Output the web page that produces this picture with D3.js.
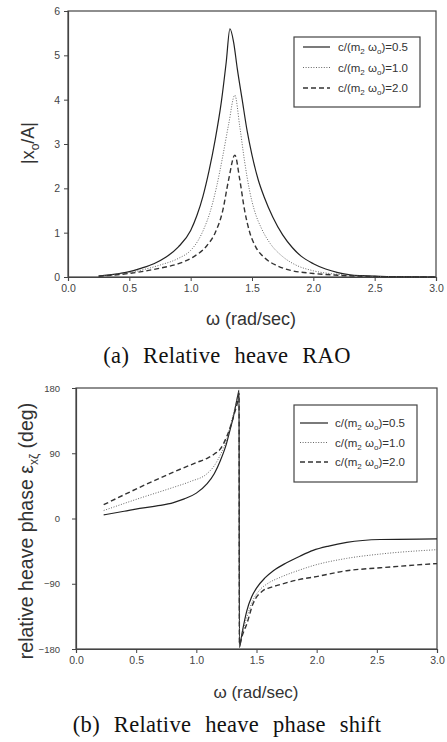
<!DOCTYPE html>
<html>
<head>
<meta charset="utf-8">
<script src="https://cdn.jsdelivr.net/npm/d3@7/dist/d3.min.js"></script>
<style>
  body { margin: 0; background: #fff; }
  text { font-family: "Liberation Sans", Arial, sans-serif; fill: #333; }
  .cap { font-family: "Liberation Serif", "Times New Roman", serif; fill: #111; }
</style>
</head>
<body>
<svg id="fig" width="447" height="742"></svg>
<script>
(function () {
    'use strict';

    // ---- data ----
    var omegaTicks = [0, 0.5, 1.0, 1.5, 2.0, 2.5, 3.0];
    var raoTicks = [0, 1, 2, 3, 4, 5, 6];
    var phaseTicks = [-180, -90, 0, 90, 180];
    var dampLabels = ['0.5', '1.0', '2.0'];

    // |x_o/A| vs omega
    var rao05 = [[0.25, 0.02], [0.4, 0.07], [0.5, 0.12], [0.6, 0.2], [0.7, 0.3], [0.8, 0.45],
        [0.9, 0.68], [1.0, 1.05], [1.05, 1.38], [1.1, 1.82], [1.15, 2.4], [1.2, 3.1],
        [1.25, 3.95], [1.29, 4.85], [1.32, 5.6], [1.35, 5.3], [1.38, 4.7], [1.42, 4.0],
        [1.46, 3.3], [1.5, 2.75], [1.55, 2.2], [1.6, 1.8], [1.67, 1.35], [1.75, 0.95],
        [1.83, 0.66], [1.9, 0.47], [2.0, 0.3], [2.1, 0.18], [2.2, 0.1], [2.3, 0.05],
        [2.4, 0.03], [2.6, 0.01], [3.0, 0]];
    var rao10 = [[0.25, 0.02], [0.5, 0.1], [0.75, 0.27], [0.9, 0.42], [1.0, 0.6], [1.06, 0.82],
        [1.11, 1.1], [1.16, 1.48], [1.21, 2.02], [1.26, 2.7], [1.31, 3.45], [1.36, 4.1],
        [1.40, 3.4], [1.44, 2.6], [1.48, 1.95], [1.52, 1.5], [1.58, 1.08], [1.65, 0.75],
        [1.75, 0.46], [1.85, 0.28], [2.0, 0.14], [2.2, 0.06], [2.4, 0.02], [2.6, 0.01], [3.0, 0]];
    var rao20 = [[0.25, 0.02], [0.5, 0.08], [0.75, 0.2], [0.9, 0.3], [1.02, 0.45], [1.13, 0.7],
        [1.2, 1.0], [1.26, 1.48], [1.31, 2.2], [1.36, 2.75], [1.40, 2.2], [1.44, 1.5],
        [1.48, 1.02], [1.53, 0.68], [1.6, 0.44], [1.7, 0.26], [1.8, 0.16], [2.0, 0.08],
        [2.2, 0.04], [2.5, 0.01], [3.0, 0]];

    // relative heave phase (deg) vs omega
    var phase05 = [[0.23, 5], [0.4, 10], [0.53, 14], [0.7, 18], [0.81, 22], [0.9, 27],
        [1.0, 35], [1.09, 48], [1.15, 62], [1.2, 80], [1.25, 103], [1.28, 122], [1.31, 142],
        [1.33, 158], [1.345, 170], [1.355, 177], [1.358, -178], [1.38, -158], [1.42, -127],
        [1.46, -108], [1.5, -96], [1.57, -82], [1.64, -72], [1.75, -61], [1.86, -52],
        [1.97, -44], [2.1, -38], [2.25, -33], [2.53, -29], [3.0, -28]];
    var phase10 = [[0.23, 11], [0.53, 28], [0.81, 43], [0.95, 51], [1.09, 62], [1.15, 73],
        [1.2, 88], [1.25, 108], [1.28, 126], [1.31, 145], [1.33, 158], [1.355, 174],
        [1.358, -176], [1.38, -160], [1.42, -136], [1.47, -113], [1.53, -98], [1.59, -90],
        [1.7, -81], [1.86, -71], [1.97, -65], [2.25, -55], [2.53, -49], [3.0, -43]];
    var phase20 = [[0.23, 19], [0.53, 43], [0.81, 64], [1.0, 77], [1.09, 83], [1.15, 89],
        [1.2, 96], [1.25, 112], [1.29, 130], [1.32, 147], [1.34, 159], [1.355, 172],
        [1.358, -174], [1.38, -162], [1.42, -145], [1.47, -118], [1.55, -100], [1.62, -95],
        [1.7, -91], [1.86, -84], [1.97, -81], [2.25, -72], [2.53, -68], [3.0, -62]];

    var lineStyles = [
        { stroke: '#222', width: 1.2, dash: null },
        { stroke: '#666', width: 1.0, dash: '1,1.6' },
        { stroke: '#333', width: 1.4, dash: '5,3' }
    ];

    var svg = d3.select('#fig');

    function legendLabel(g, x, y, val) {
        var t = g.append('text').attr('x', x).attr('y', y).attr('dy', '0.35em')
            .style('font-size', '11.5px');
        t.append('tspan').text('c/(m');
        t.append('tspan').attr('dy', 3).style('font-size', '8px').text('2');
        t.append('tspan').attr('dy', -3).text(' \u03c9');
        t.append('tspan').attr('dy', 3).style('font-size', '8px').text('o');
        t.append('tspan').attr('dy', -3).text(')=' + val);
    }

    function drawPanel(p) {
        var x = d3.scaleLinear().domain([0, 3]).range([p.left, p.right]),
            y = d3.scaleLinear().domain(p.yDomain).range([p.bottom, p.top]);

        var g = svg.append('g');

        // frame
        g.append('rect')
            .attr('x', p.left).attr('y', p.top)
            .attr('width', p.right - p.left).attr('height', p.bottom - p.top)
            .style('fill', 'none').style('stroke', '#444').style('stroke-width', 1.2);

        var xa = g.append('g')
            .attr('transform', 'translate(0,' + p.bottom + ')')
            .call(d3.axisBottom(x).tickValues(omegaTicks).tickFormat(d3.format('.1f'))
                .tickSize(4).tickPadding(4));
        var ya = g.append('g')
            .attr('transform', 'translate(' + p.left + ',0)')
            .call(d3.axisLeft(y).tickValues(p.yTicks).tickFormat(d3.format('d'))
                .tickSize(4).tickPadding(p.yPad));

        [xa, ya].forEach(function (a) {
            a.select('.domain').style('stroke', '#444').style('stroke-width', 1.2);
            a.selectAll('.tick line').style('stroke', '#444');
            a.selectAll('.tick text').style('font-family', '"Liberation Sans", Arial, sans-serif')
                .style('fill', '#444');
        });
        xa.selectAll('.tick text').style('font-size', '10.5px');
        ya.selectAll('.tick text').style('font-size', p.yFont);

        var line = d3.line()
            .x(function (d) { return x(d[0]); })
            .y(function (d) { return y(d[1]); })
            .curve(d3.curveMonotoneX);

        p.series.forEach(function (s, i) {
            var st = lineStyles[i];
            g.append('path')
                .datum(s)
                .attr('d', line)
                .style('fill', 'none')
                .style('stroke', st.stroke)
                .style('stroke-width', st.width)
                .style('stroke-dasharray', st.dash);
        });

        // legend
        var L = p.legend;
        g.append('rect')
            .attr('x', L.x).attr('y', L.y).attr('width', L.w).attr('height', L.h)
            .style('fill', '#fff').style('stroke', '#444').style('stroke-width', 1.2);
        dampLabels.forEach(function (lab, i) {
            var st = lineStyles[i],
                ry = L.y + L.first + i * L.step;
            g.append('line')
                .attr('x1', L.x + L.sx0).attr('x2', L.x + L.sx1)
                .attr('y1', ry).attr('y2', ry)
                .style('stroke', st.stroke)
                .style('stroke-width', st.width)
                .style('stroke-dasharray', st.dash);
            legendLabel(g, L.x + L.tx, ry, lab);
        });

        // axis titles
        g.append('text')
            .attr('x', p.xTitle[0]).attr('y', p.xTitle[1])
            .attr('text-anchor', 'middle')
            .style('font-size', p.titleFont)
            .text('\u03c9 (rad/sec)');

        var yt = g.append('text')
            .attr('transform', 'translate(' + p.yTitle[0] + ',' + p.yTitle[1] + ') rotate(-90)')
            .attr('text-anchor', 'middle')
            .style('font-size', p.yTitleFont);
        p.yLabel(yt);

        g.append('text')
            .attr('class', 'cap')
            .attr('x', p.caption[0]).attr('y', p.caption[1])
            .attr('text-anchor', 'middle')
            .style('font-size', '22.5px')
            .style('letter-spacing', '0.3px')
            .style('word-spacing', '8px')
            .text(p.captionText);
    }

    drawPanel({
        left: 68, right: 436, top: 11, bottom: 277,
        yDomain: [0, 6], yTicks: raoTicks, yPad: 4, yFont: '10.5px',
        series: [rao05, rao10, rao20],
        legend: { x: 294, y: 37, w: 126, h: 70, first: 10, step: 20.5, sx0: 9, sx1: 36, tx: 44 },
        xTitle: [251, 325], yTitle: [34, 143], titleFont: '18px', yTitleFont: '18px',
        yLabel: function (t) {
            t.append('tspan').text('|x');
            t.append('tspan').attr('dy', 5).style('font-size', '12px').text('o');
            t.append('tspan').attr('dy', -5).text('/A|');
        },
        caption: [227, 363], captionText: '(a) Relative heave RAO'
    });

    drawPanel({
        left: 76, right: 437, top: 388, bottom: 649,
        yDomain: [-180, 180], yTicks: phaseTicks, yPad: 12, yFont: '9.5px',
        series: [phase05, phase10, phase20],
        legend: { x: 294, y: 405, w: 123, h: 77, first: 18, step: 19.5, sx0: 6, sx1: 34, tx: 41 },
        xTitle: [256, 698], yTitle: [33, 531], titleFont: '17px', yTitleFont: '19.5px',
        yLabel: function (t) {
            t.append('tspan').text('relative heave phase \u03b5');
            t.append('tspan').attr('dy', 5).style('font-size', '12px').text('x\u03b6');
            t.append('tspan').attr('dy', -5).text(' (deg)');
        },
        caption: [227, 732], captionText: '(b) Relative heave phase shift'
    });
})();
</script>
</body>
</html>
